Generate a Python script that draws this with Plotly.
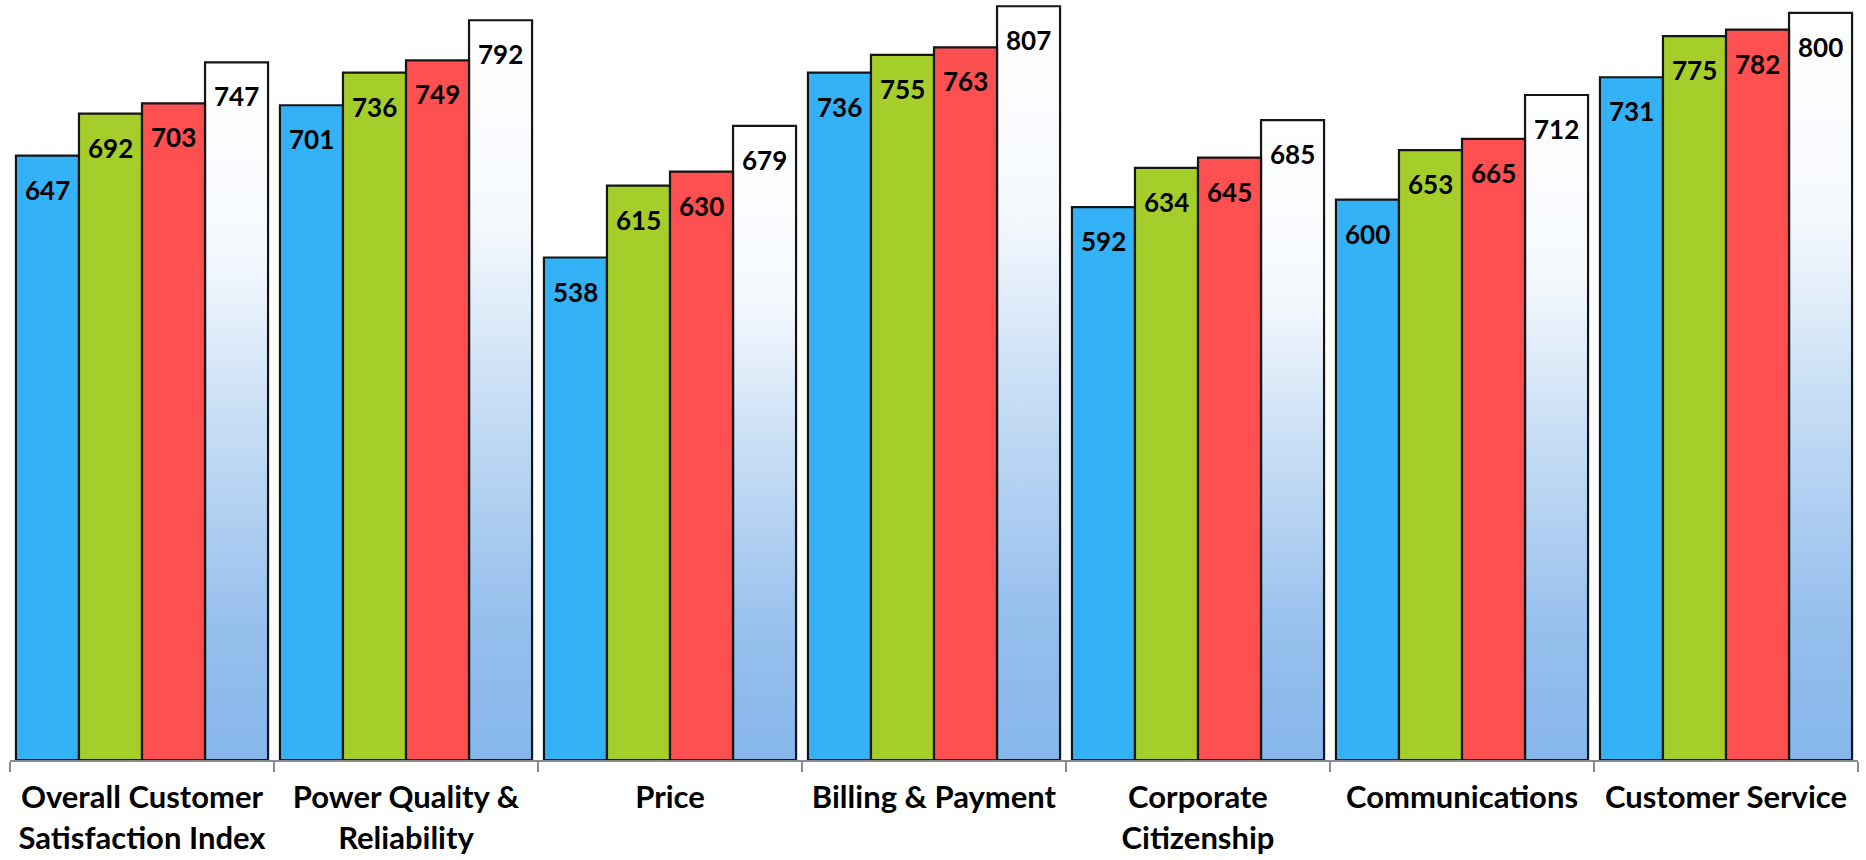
import plotly.graph_objects as go

categories = [
    "Overall Customer<br>Satisfaction Index",
    "Power Quality &<br>Reliability",
    "Price",
    "Billing & Payment",
    "Corporate<br>Citizenship",
    "Communications",
    "Customer Service",
]
series_names = ["Series 1", "Series 2", "Series 3", "Series 4"]
s1 = [647, 701, 538, 736, 592, 600, 731]
s2 = [692, 736, 615, 755, 634, 653, 775]
s3 = [703, 749, 630, 763, 645, 665, 782]
s4 = [747, 792, 679, 807, 685, 712, 800]
series = [s1, s2, s3, s4]
colors = ["#33b2f8", "#a6ce2a", "#fe4f51", "rgba(0,0,0,0)"]
gradient = [[0, "#86b6ea"], [0.2, "#97c0ed"], [0.5, "#cadff5"], [0.72, "#f4f8fd"], [1, "#ffffff"]]

n = len(categories)
span = 0.955
w = span / 4
offsets = [-span / 2 + k * w for k in range(4)]

fig = go.Figure()

# vertical gradient fill for the fourth series (numeric helper axis x)
for i, v in enumerate(s4):
    x0 = i + offsets[3]
    x1 = x0 + w
    fig.add_trace(go.Scatter(
        x=[x0, x1, x1, x0, x0], y=[0, 0, v, v, 0],
        fill="toself", mode="none",
        fillgradient=dict(type="vertical", colorscale=gradient, start=0, stop=v),
        xaxis="x", yaxis="y", hoverinfo="skip", showlegend=False,
    ))

for k, (name, vals, col) in enumerate(zip(series_names, series, colors)):
    fig.add_trace(go.Bar(
        x=categories, y=vals, name=name, width=w, offset=offsets[k],
        marker=dict(color=col, line=dict(color="#151515", width=2.2)),
        xaxis="x2", yaxis="y", showlegend=False,
    ))

annotations = []
for k, vals in enumerate(series):
    for i, v in enumerate(vals):
        annotations.append(dict(
            x=i + offsets[k] + w / 2, y=v, xref="x", yref="y",
            text=str(v), showarrow=False, yshift=-34,
            font=dict(family="Lato", size=26, color="#000000", weight="bold"),
        ))

fig.update_layout(
    width=1866, height=860,
    margin=dict(l=10, r=8, t=0, b=100, autoexpand=False),
    paper_bgcolor="white", plot_bgcolor="white",
    barmode="overlay",
    annotations=annotations,
    xaxis=dict(type="linear", range=[-0.5, n - 0.5], visible=False, fixedrange=True,
               automargin=False),
    xaxis2=dict(
        type="category", range=[-0.5, n - 0.5], overlaying="x", anchor="y", side="bottom",
        showline=True, linecolor="#8c8c8c", linewidth=2,
        ticks="outside", tickson="boundaries", ticklen=10, tickcolor="#8c8c8c", tickwidth=2,
        showgrid=False, zeroline=False, automargin=False, tickangle=0,
        ticklabelstandoff=9,
        tickfont=dict(family="Lato", size=31, color="#000000", weight="bold"),
    ),
    yaxis=dict(range=[0, 813.7], visible=False, showgrid=False, zeroline=False,
               automargin=False),
)

fig.write_html("out.html", config={"displayModeBar": False},
               post_script="document.body.style.margin='0';")
